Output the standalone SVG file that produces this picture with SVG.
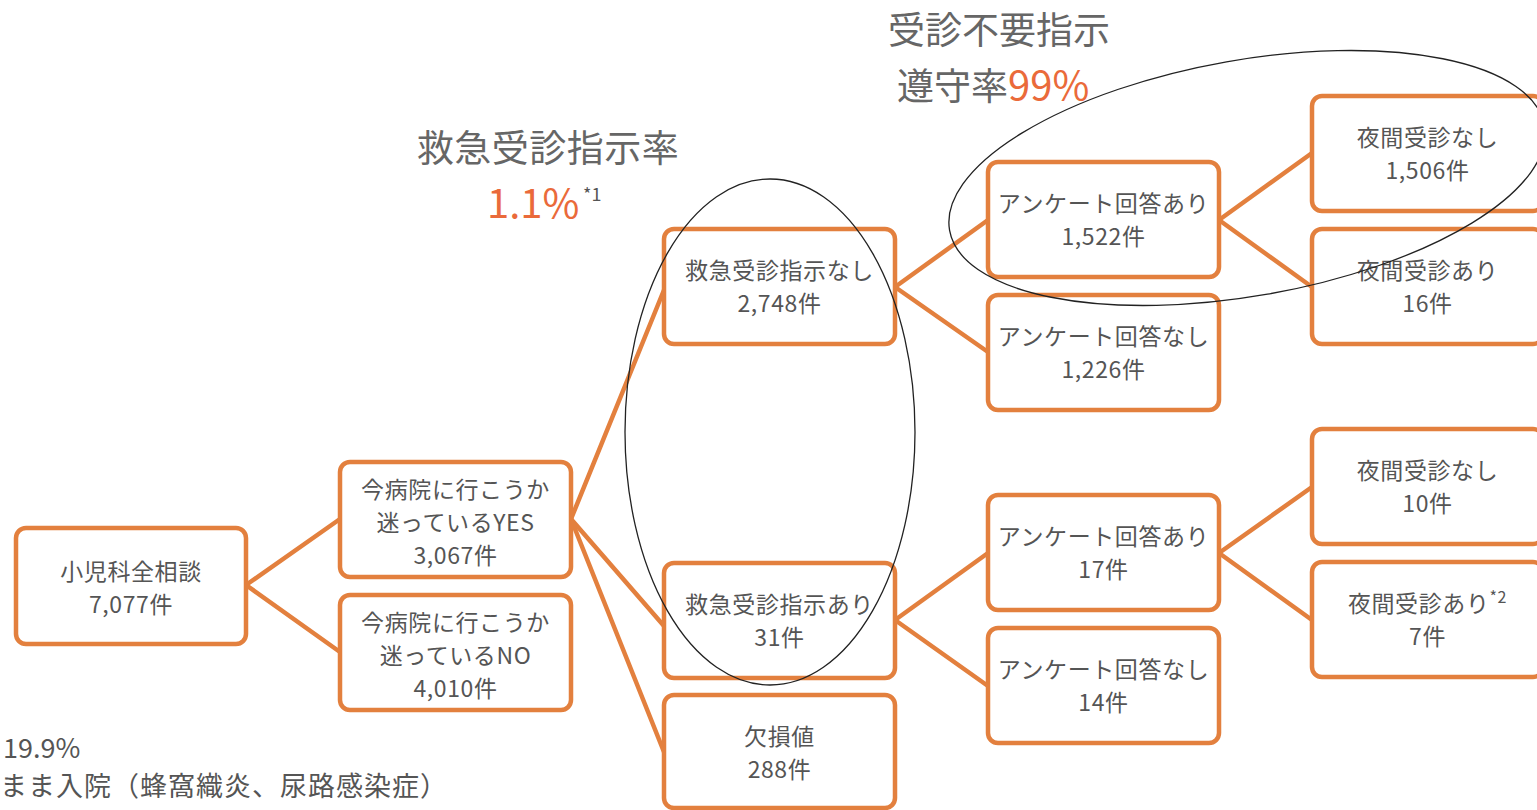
<svg xmlns="http://www.w3.org/2000/svg" width="1537" height="810" viewBox="0 0 1537 810">
<style>
.box{fill:#fff;stroke:#E3803E;stroke-width:4.5}
.con{stroke:#E3803E;stroke-width:4.5;fill:none;stroke-linecap:round}
.t{font-family:"Noto Sans CJK JP","Noto Sans",sans-serif;font-size:23px;letter-spacing:0.6px;fill:#555;text-anchor:middle}
.title{font-family:"Noto Sans CJK JP","Noto Sans",sans-serif;font-size:37px;fill:#666}
.or{fill:#EA6A3A}
.note{font-family:"Noto Sans CJK JP","Noto Sans",sans-serif;fill:#555}
.ell{fill:none;stroke:#222;stroke-width:1.3}
</style>
<rect width="1537" height="810" fill="#fff"/>
<g id="titles">
<text class="title" x="548" y="162" text-anchor="middle" letter-spacing="0.5">救急受診指示率</text>
<text class="title or" x="487" y="218" style="font-size:40px">1.1%</text>
<text class="note" x="583" y="201" font-size="18">*1</text>
<text class="title" x="999" y="44" text-anchor="middle">受診不要指示</text>
<text class="title" x="897" y="100">遵守率<tspan class="or" style="font-size:40px">99%</tspan></text>
</g>
<g id="connectors">
<line class="con" x1="246" y1="585" x2="340" y2="519"/>
<line class="con" x1="246" y1="585" x2="340" y2="652"/>
<line class="con" x1="571" y1="519" x2="664" y2="290"/>
<line class="con" x1="571" y1="519" x2="664" y2="626"/>
<line class="con" x1="571" y1="519" x2="664" y2="752"/>
<line class="con" x1="895" y1="287" x2="988" y2="220"/>
<line class="con" x1="895" y1="287" x2="988" y2="352"/>
<line class="con" x1="895" y1="620" x2="988" y2="553"/>
<line class="con" x1="895" y1="620" x2="988" y2="686"/>
<line class="con" x1="1219" y1="220" x2="1312" y2="153"/>
<line class="con" x1="1219" y1="220" x2="1312" y2="287"/>
<line class="con" x1="1219" y1="553" x2="1312" y2="487"/>
<line class="con" x1="1219" y1="553" x2="1312" y2="620"/>
</g>
<g id="n-root"><rect class="box" x="16" y="528" width="230" height="116" rx="10"/>
<text class="t" x="131" y="580">小児科全相談</text><text class="t" x="131" y="613">7,077件</text></g>
<g id="n-yes"><rect class="box" x="340" y="462" width="231" height="115" rx="10"/>
<text class="t" x="455.5" y="498">今病院に行こうか</text><text class="t" x="455.5" y="531">迷っているYES</text><text class="t" x="455.5" y="564">3,067件</text></g>
<g id="n-no"><rect class="box" x="340" y="595" width="231" height="115" rx="10"/>
<text class="t" x="455.5" y="631">今病院に行こうか</text><text class="t" x="455.5" y="664">迷っているNO</text><text class="t" x="455.5" y="697">4,010件</text></g>
<g id="n-er-no"><rect class="box" x="664" y="229" width="231" height="115" rx="10"/>
<text class="t" x="779.5" y="279">救急受診指示なし</text><text class="t" x="779.5" y="312">2,748件</text></g>
<g id="n-er-yes"><rect class="box" x="664" y="563" width="231" height="115" rx="10"/>
<text class="t" x="779.5" y="613">救急受診指示あり</text><text class="t" x="779.5" y="646">31件</text></g>
<g id="n-missing"><rect class="box" x="664" y="695" width="231" height="113" rx="10"/>
<text class="t" x="779.5" y="745">欠損値</text><text class="t" x="779.5" y="778">288件</text></g>
<g id="n-q1-yes"><rect class="box" x="988" y="162" width="231" height="115" rx="10"/>
<text class="t" x="1103.5" y="212">アンケート回答あり</text><text class="t" x="1103.5" y="245">1,522件</text></g>
<g id="n-q1-no"><rect class="box" x="988" y="295" width="231" height="115" rx="10"/>
<text class="t" x="1103.5" y="345">アンケート回答なし</text><text class="t" x="1103.5" y="378">1,226件</text></g>
<g id="n-q2-yes"><rect class="box" x="988" y="495" width="231" height="115" rx="10"/>
<text class="t" x="1103.5" y="545">アンケート回答あり</text><text class="t" x="1103.5" y="578">17件</text></g>
<g id="n-q2-no"><rect class="box" x="988" y="628" width="231" height="115" rx="10"/>
<text class="t" x="1103.5" y="678">アンケート回答なし</text><text class="t" x="1103.5" y="711">14件</text></g>
<g id="n-n1-no"><rect class="box" x="1312" y="96" width="231" height="115" rx="10"/>
<text class="t" x="1427.5" y="146">夜間受診なし</text><text class="t" x="1427.5" y="179">1,506件</text></g>
<g id="n-n1-yes"><rect class="box" x="1312" y="229" width="231" height="115" rx="10"/>
<text class="t" x="1427.5" y="279">夜間受診あり</text><text class="t" x="1427.5" y="312">16件</text></g>
<g id="n-n2-no"><rect class="box" x="1312" y="429" width="231" height="115" rx="10"/>
<text class="t" x="1427.5" y="479">夜間受診なし</text><text class="t" x="1427.5" y="512">10件</text></g>
<g id="n-n2-yes"><rect class="box" x="1312" y="562" width="231" height="115" rx="10"/>
<text class="t" x="1427.5" y="612">夜間受診あり<tspan font-size="16" dy="-9">*2</tspan></text><text class="t" x="1427.5" y="645">7件</text></g>
<g id="ellipses">
<ellipse class="ell" cx="770" cy="432" rx="145" ry="253"/>
<ellipse class="ell" cx="1247" cy="178" rx="302" ry="118" transform="rotate(-10 1247 178)"/>
</g>
<g id="footnote">
<text class="note" x="3" y="758" font-size="27">19.9%</text>
<text class="note" x="0" y="796" font-size="27" letter-spacing="1">まま入院（蜂窩織炎、尿路感染症）</text>
</g>
</svg>
